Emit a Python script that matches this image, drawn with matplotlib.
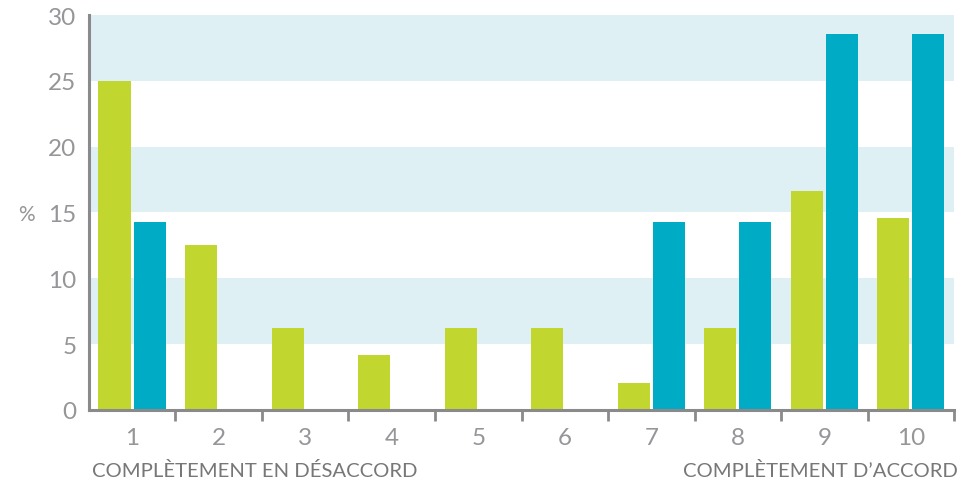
import numpy as np
import matplotlib.pyplot as plt

categories = ['1', '2', '3', '4', '5', '6', '7', '8', '9', '10']
green_vals = [25.0, 12.5, 6.25, 4.17, 6.25, 6.25, 2.08, 6.25, 16.67, 14.58]
blue_vals = [14.29, 0, 0, 0, 0, 0, 14.29, 14.29, 28.57, 28.57]
yticks = [0, 5, 10, 15, 20, 25, 30]
bands = [(5, 10), (15, 20), (25, 30)]

green = '#c1d72f'
blue = '#00abc6'
gray = '#8a8a8d'
label_gray = '#96969a'
band_col = '#dff0f5'

plt.rcParams['font.family'] = ['Lato', 'DejaVu Sans']

fig = plt.figure(figsize=(9.8, 4.85), dpi=100)
ax = fig.add_axes([0.0908, 0.1526, 0.8827, 0.8144])

x = np.arange(1, len(categories) + 1)
for lo, hi in bands:
    ax.axhspan(lo, hi, color=band_col, zorder=0, lw=0)

w = 0.37
ax.bar(x - 0.205, green_vals, width=w, color=green, zorder=2)
ax.bar(x + 0.2, blue_vals, width=w, color=blue, zorder=2)

ax.set_xlim(0.5, 10.5)
ax.set_ylim(0, 30)
ax.set_yticks(yticks)
ax.set_yticklabels([str(v) for v in yticks], fontsize=17.5, color=label_gray)
ax.tick_params(axis='y', length=0, pad=9)

ax.set_xticks(x)
ax.set_xticklabels(categories, fontsize=17.5, color=label_gray)
ax.tick_params(axis='x', which='major', length=0, pad=12)
ax.set_xticks(np.arange(1.5, 11, 1), minor=True)
ax.tick_params(axis='x', which='minor', length=8, width=2, color=gray)

for s in ['top', 'right']:
    ax.spines[s].set_visible(False)
for s in ['left', 'bottom']:
    ax.spines[s].set_color(gray)
    ax.spines[s].set_linewidth(2.2)

fig.text(0.018, 0.557, '%', fontsize=15, color=label_gray, ha='left', va='center')
fig.text(0.094, 0.029, 'COMPLÈTEMENT EN DÉSACCORD', fontsize=14.6, color='#77777a', ha='left', va='center')
fig.text(0.977, 0.029, 'COMPLÈTEMENT D’ACCORD', fontsize=14.6, color='#77777a', ha='right', va='center')

fig.savefig('out.png', dpi=100)
